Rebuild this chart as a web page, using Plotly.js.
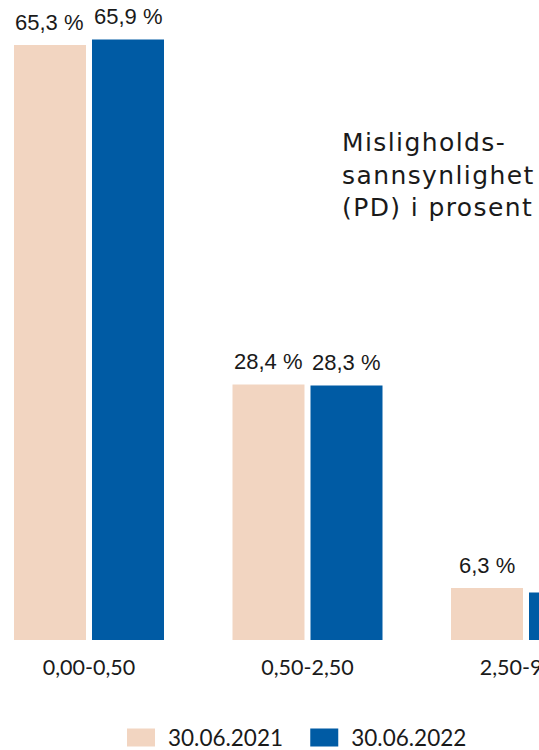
<!DOCTYPE html>
<html><head><meta charset="utf-8">
<script src="https://cdn.plot.ly/plotly-3.0.1.min.js"></script>
<style>
html,body{margin:0;padding:0;background:#fff;overflow:hidden}
#chart{width:539px;height:750px}
.annotation[data-index="0"] text{letter-spacing:1.4px}
</style></head><body><div id="chart"></div><script>
// ---- data ----
var categories = ["0,00-0,50", "0,50-2,50", "2,50-9,99"];
var seriesNames = ["30.06.2021", "30.06.2022"];
var values2021 = [65.3, 28.4, 6.3];
var values2022 = [65.9, 28.3, 5.8];
var chartTitle = "Misligholds-<br>sannsynlighet<br>(PD) i prosent";

// ---- style ----
var colors = ["#f2d5c1", "#005ba4"];
var bargap = 0.286, bargroupgap = 0.077;
var textColor = "#1a1a1a";
var legendX = [0.2115, 0.5515];

function fmt(v){ return v.toFixed(1).replace('.', ',') + ' %'; }

var series = [values2021, values2022];
var traces = series.map(function(vals, s){
  return {
    type: 'bar', name: seriesNames[s], x: categories, y: vals,
    legend: s === 0 ? 'legend' : 'legend2',
    marker: {color: colors[s], line: {width: 0}},
    hoverinfo: 'skip'
  };
});

var annotations = [{
  text: chartTitle, xref: 'paper', yref: 'paper', x: 340/539, y: 0.803,
  xanchor: 'left', yanchor: 'top', align: 'left', showarrow: false,
  font: {family: 'DejaVu Sans', size: 25, color: textColor}
}];
var half = (1 - bargap) / 4;
series.forEach(function(vals, s){
  vals.forEach(function(v, i){
    annotations.push({
      x: i + (s === 0 ? -half : half), y: v, xref: 'x', yref: 'y',
      text: fmt(v), showarrow: false, xanchor: 'center', yanchor: 'bottom',
      yshift: 9.5, borderpad: 0,
      font: {family: 'Liberation Sans', size: 22, color: textColor}
    });
  });
});

function legendCfg(x){
  return {orientation: 'h', x: x, xanchor: 'left', y: -0.153, yanchor: 'middle',
          itemwidth: 44, bgcolor: 'rgba(0,0,0,0)',
          font: {family: 'Lato', size: 22.5, color: textColor}};
}

var layout = {
  width: 539, height: 750,
  margin: {l: 0, r: 0, t: 0, b: 110, autoexpand: false},
  paper_bgcolor: '#fff', plot_bgcolor: '#fff',
  barmode: 'group', bargap: bargap, bargroupgap: bargroupgap,
  showlegend: true,
  legend: legendCfg(legendX[0]),
  legend2: legendCfg(legendX[1]),
  xaxis: {type: 'category', range: [-0.4073, 2.0595], showgrid: false, zeroline: false,
          showline: false, ticks: '', ticklabelstandoff: 12,
          tickfont: {family: 'Lato', size: 21.5, color: textColor}},
  yaxis: {range: [0.65, 70.19], visible: false, showgrid: false, zeroline: false},
  annotations: annotations
};

Plotly.newPlot('chart', traces, layout, {staticPlot: true}).then(function(){
  document.querySelectorAll('#chart .legendpoints path').forEach(function(p){
    p.setAttribute('d', 'M14,9H-14V-9H14Z');
  });
});
</script></body></html>
